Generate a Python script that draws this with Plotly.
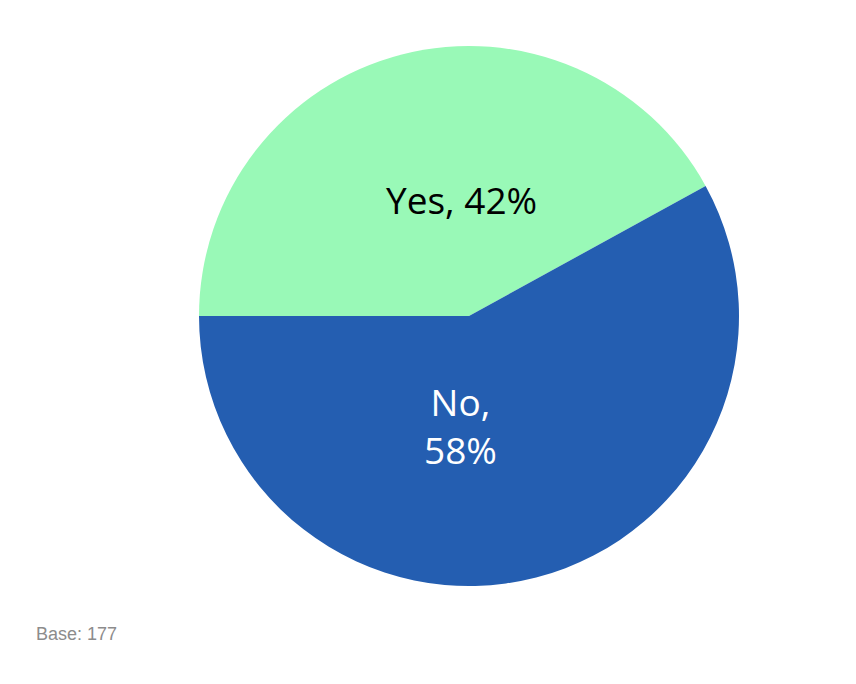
import plotly.graph_objects as go

labels = ["Yes", "No"]
values = [42, 58]
colors = ["#99F9B7", "#245EB1"]
text_colors = ["#000000", "#FFFFFF"]
base_note = "Base: 177"

W, H = 856, 684
cx, cy, R = 461, 308, 270  # pie centre / radius in figure pixels

def px(x):
    return x / W

def py(y):
    return (H - y) / H

fig = go.Figure(go.Pie(
    labels=labels,
    values=values,
    sort=False,
    direction="clockwise",
    rotation=270,
    marker=dict(colors=colors, line=dict(width=0)),
    textinfo="none",
    hoverinfo="label+percent",
    showlegend=False,
    domain=dict(x=[px(cx - R), px(cx + R)], y=[py(cy + R), py(cy - R)]),
))

total = sum(values)
pct = [round(v / total * 100) for v in values]
label_font = dict(family="Open Sans", size=37)

# Yes label (single line)
fig.add_annotation(
    text=f"{labels[0]}, {pct[0]}%", x=px(cx - 7.5), y=py(cy - 117),
    xref="paper", yref="paper", showarrow=False, xanchor="center", yanchor="middle",
    font=dict(**label_font, color=text_colors[0]),
)
# No label (two lines)
fig.add_annotation(
    text=f"{labels[1]},<br>{pct[1]}%", x=px(cx - 8), y=py(cy + 109),
    xref="paper", yref="paper", showarrow=False, xanchor="center", yanchor="middle",
    align="center",
    font=dict(**label_font, color=text_colors[1]),
)

fig.add_annotation(
    text=base_note, x=px(26), y=py(626), xref="paper", yref="paper",
    xanchor="left", yanchor="middle", showarrow=False,
    font=dict(family="Liberation Sans", size=18, color="#8C8C8C"),
)

fig.update_layout(
    width=W, height=H,
    margin=dict(l=0, r=0, t=0, b=0),
    paper_bgcolor="white", plot_bgcolor="white",
)

fig.write_html("out.html")
